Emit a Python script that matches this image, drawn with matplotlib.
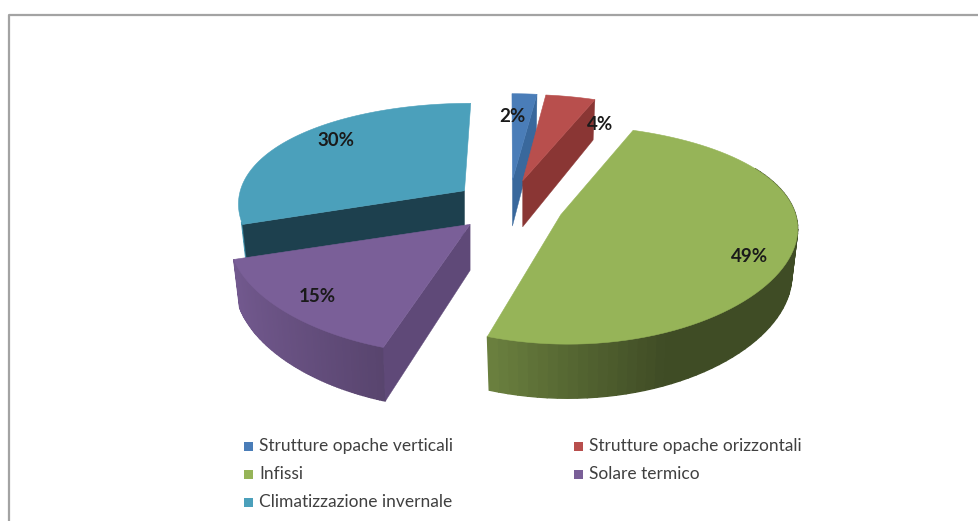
import numpy as np
import matplotlib
matplotlib.use("Agg")
import matplotlib.pyplot as plt
from matplotlib.patches import Polygon, Rectangle

labels = ['Strutture opache verticali', 'Strutture opache orizzontali', 'Infissi',
          'Solare termico', 'Climatizzazione invernale']
values = [2, 4, 49, 15, 30]
top_colors = ['#4a7db8', '#b84f4d', '#96b458', '#7a5f98', '#4ba0bb']
cut_colors = ['#39689c', '#8a3634', '#55702f', '#5f4978', '#1d404e']
pct_pos = [(512, 117), (600, 125), (750, 257), (317, 297), (336, 141)]
legend_pos = [(248, 446), (578, 446), (248, 474), (578, 474), (248, 502)]

# pie geometry in pixels
cx, cy = 509, 206
rx, ry = 231, 105
persp_x, persp_y = 0.1, 0.18
skew = 0.14
ex, ey = 55, 26
height = 46
bottom_shrink = 0.025


def project(theta, r, mid):
    u = r * np.sin(theta)
    v = -r * np.cos(theta)
    # exploded slices nearer the viewer look larger
    near = -np.cos(mid)
    sx = 1 + 0.05 * near
    sy = 1 + 0.03 * near
    x = cx + ex * np.sin(mid) * (1 + skew * v) + sx * rx * u / (1 - persp_x * v)
    y = cy - ey * np.cos(mid) + sy * ry * v / (1 - persp_y * v)
    h = height / (1 - 0.15 * v)
    return x, y, h


def shade(color, u):
    rgb = np.array(matplotlib.colors.to_rgb(color))
    return rgb * np.interp(u, [-1, -0.3, 0, 0.4, 1], [0.95, 0.72, 0.58, 0.42, 0.42])


def draw_slice(ax, start, end, top, cut, zorder):
    mid = (start + end) / 2
    thetas = np.linspace(start, end, 80)
    xs, ys, hs = project(thetas, 1.0, mid)
    ax0, ay0, ah0 = project(mid, 0.0, mid)
    # the bottom of the solid is a bit narrower than the top
    xb = xs + (ax0 - xs) * bottom_shrink

    # outer wall in strips so the shading can change along it
    for i in range(len(thetas) - 1):
        if np.cos(thetas[i]) > 0.5:
            continue
        if np.sin(thetas[i]) < 0 and np.cos(thetas[i]) > -0.3:
            continue
        strip = [(xs[i], ys[i]), (xs[i + 1], ys[i + 1]),
                 (xb[i + 1], ys[i + 1] + hs[i + 1]), (xb[i], ys[i] + hs[i])]
        c = shade(top, np.sin(thetas[i]))
        ax.add_patch(Polygon(strip, fc=c, ec=c, lw=1.0, zorder=zorder))

    # cut faces, only the ones turned towards the viewer
    if -np.sin(start) > 0.01:
        face = [(ax0, ay0), (xs[0], ys[0]), (xb[0], ys[0] + hs[0]), (ax0, ay0 + ah0)]
        ax.add_patch(Polygon(face, fc=cut, ec=cut, lw=0.3, zorder=zorder + 0.1))
    if np.sin(end) > 0.01:
        face = [(ax0, ay0), (xs[-1], ys[-1]), (xb[-1], ys[-1] + hs[-1]), (ax0, ay0 + ah0)]
        ax.add_patch(Polygon(face, fc=cut, ec=cut, lw=0.3, zorder=zorder + 0.1))

    outline = [(ax0, ay0)] + list(zip(xs, ys))
    ax.add_patch(Polygon(outline, fc=top, ec=top, lw=0.4, zorder=zorder + 0.2))


def main():
    fig = plt.figure(figsize=(9.79, 5.21), dpi=100)
    ax = fig.add_axes([0, 0, 1, 1])
    ax.set_xlim(0, 979)
    ax.set_ylim(521, 0)
    ax.axis('off')
    plt.rcParams['font.family'] = ['Lato', 'DejaVu Sans']

    ax.plot([9, 9, 979], [521, 15, 15], color='#a3a3a3', lw=1.6)

    edges = np.cumsum([0] + values) / sum(values) * 2 * np.pi
    order = [4, 0, 1, 2, 3]
    for n, i in enumerate(order):
        draw_slice(ax, edges[i], edges[i + 1], top_colors[i], cut_colors[i], 2 + n)

    for i in range(len(values)):
        ax.text(pct_pos[i][0], pct_pos[i][1], '%d%%' % values[i], ha='center', va='center',
                fontsize=13.5, fontweight='bold', color='#1a1a1a', zorder=10)
        x, y = legend_pos[i]
        ax.add_patch(Rectangle((x - 4, y - 4), 9, 9, fc=top_colors[i], ec='none', zorder=10))
        ax.text(x + 11, y, labels[i], ha='left', va='center', fontsize=12.5, color='#404040')

    fig.savefig('out.png', dpi=100)


if __name__ == "__main__":
    main()
